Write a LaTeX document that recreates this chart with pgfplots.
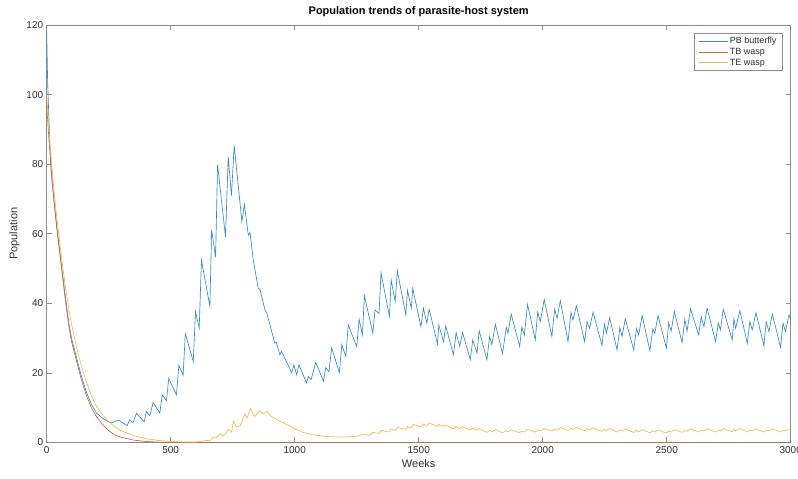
\documentclass[border=0pt]{standalone}
\usepackage{fontspec}
\setmainfont{Liberation Sans}
\usepackage{pgfplots}
\pgfplotsset{compat=1.18}
\definecolor{mblue}{RGB}{55,138,192}
\definecolor{morange}{RGB}{185,110,80}
\definecolor{myellow}{RGB}{236,188,75}
\definecolor{axgray}{RGB}{140,140,140}
\definecolor{labgray}{RGB}{50,50,50}
\begin{document}
\begin{tikzpicture}
\begin{axis}[
  width=744pt, height=417.5pt, scale only axis,
  xmin=0, xmax=3000, ymin=0, ymax=120,
  xtick={0,500,1000,1500,2000,2500,3000},
  ytick={0,20,40,60,80,100,120},
  tick align=inside, major tick length=5pt,
  axis line style={axgray, line width=0.6pt},
  tick style={axgray, line width=0.6pt},
  every tick label/.append style={font=\fontsize{10}{12}\selectfont, text=labgray},
  /pgf/number format/assume math mode=true,
  /pgf/number format/1000 sep={},
  title={\textbf{Population trends of parasite-host system}},
  title style={font=\fontsize{11}{13}\selectfont, inner sep=2pt},
  xlabel={Weeks}, ylabel={Population},
  label style={font=\fontsize{11}{13}\selectfont, text=labgray},
  legend style={at={(1,1)}, anchor=north east, xshift=-8pt, yshift=-8pt,
    draw=axgray, font=\fontsize{9}{10}\selectfont, text=labgray,
    inner xsep=4pt, inner ysep=2pt, row sep=-1pt},
  legend cell align=left,
  legend image code/.code={\draw[#1] (0pt,0pt) -- (29pt,0pt);},
  every axis plot/.append style={line width=0.65pt},
]
\addplot[mblue] coordinates {
(0,118) (4,103) (10,91) (15,82) (20,76) (30,69) (40,62.5) (50,56.5) (60,50.5) (75,42) (90,34) (100,30) (120,24.5) (140,19) (160,14.5) (180,11) (200,8.5) (225,7) (245,6.1) (262,5.6) (275,6.1) (291,6.4) (324,4.8) (335,6.5) (348,5.7) (362,8.4) (393,5.9) (402,8.9) (416,7.7) (429,11.5) (456,8.5) (466,13.7) (483,12.0) (492,18.4) (523,13.7) (533,22.2) (550,19.3) (559,31.3) (591,23.3) (600,37.6) (615,32.9) (624,52.4) (658,39.1) (665,61.2) (681,53.3) (689,79.8) (721,59.1) (732,82.1) (745,71) (756,85.4) (787,63.5) (797,68.4) (813,59.6) (820,60.3) (833,52.4) (853,44.3) (860,44.0) (880,38.1) (887,37.3) (920,28.5) (926,28.8) (940,25.2) (947,26.2) (988,20) (997,22.3) (1008,19.5) (1017,22.3) (1048,17.1) (1055,19) (1066,18.1) (1085,23) (1116,17.6) (1125,21.5) (1138,20.4) (1149,27.2) (1180,20.1) (1190,28.1) (1206,24.7) (1216,33.8) (1250,27.6) (1260,35.4) (1273,30.9) (1281,42.2) (1315,31.4) (1324,38.1) (1340,37.1) (1348,48.8) (1382,36.2) (1389,46.7) (1405,40.5) (1414,49.3) (1448,36.7) (1455,43.8) (1470,38.6) (1476,44.3) (1509,33.3) (1519,38.6) (1533,34.3) (1542,38.3) (1576,28.3) (1581,33.8) (1600,29) (1609,33.5) (1640,25.2) (1651,31.6) (1665,27.6) (1677,31.6) (1708,23.8) (1718,29.5) (1735,25.7) (1744,32.1) (1775,23.8) (1786,30.5) (1795,28.1) (1809,34) (1838,25.5) (1853,33.1) (1860,31.4) (1873,36.9) (1907,27.6) (1916,33.2) (1926,30.9) (1939,39.7) (1970,29.5) (1980,37.6) (1990,34.7) (2006,41.1) (2037,30.5) (2048,38.3) (2058,35.7) (2071,40.8) (2102,29) (2114,37.4) (2122,35.2) (2136,39.3) (2169,29) (2179,34.7) (2189,32.8) (2203,37.4) (2239,27.9) (2249,34) (2257,31.4) (2270,35.9) (2300,26.6) (2311,33) (2320,30.5) (2333,35.5) (2367,26.6) (2378,32.8) (2387,30.9) (2401,36.5) (2432,26.4) (2444,32.6) (2452,31.4) (2465,36.5) (2499,27.1) (2508,34.5) (2518,32) (2531,37.6) (2562,28.7) (2573,35.4) (2582,32) (2596,38.4) (2629,30.9) (2639,36.2) (2650,33.3) (2663,38.6) (2697,29) (2708,34.3) (2717,32.4) (2728,38.3) (2764,29.5) (2771,35.5) (2778,32.8) (2795,37.9) (2825,28.5) (2835,34.7) (2845,32.4) (2860,37.3) (2892,27.8) (2901,34.7) (2912,31.9) (2926,36.9) (2959,27.4) (2969,34.3) (2979,31.9) (2993,36.7) (3000,35.2)
};
\addlegendentry{PB butterfly}
\addplot[morange] coordinates {
(0,97) (10,86) (20,77) (30,69) (40,62) (50,56) (60,50) (75,41) (90,33) (100,29) (120,23.5) (140,18) (160,13.5) (180,10) (200,7.5) (225,5.2) (250,3.4) (275,2.2) (300,1.5) (350,0.7) (400,0.3) (450,0.12) (500,0.05) (600,0) (3000,0)
};
\addlegendentry{TB wasp}
\addplot[myellow] coordinates {
(0,100) (10,89) (20,80) (30,72) (40,65) (50,59) (60,53) (75,45) (90,38) (100,34) (120,27.5) (140,22) (160,17.5) (180,13.5) (200,10.5) (225,8) (250,6) (275,4.5) (300,3.4) (350,2) (400,1.1) (450,0.6) (500,0.3) (550,0.15) (600,0.15) (620,0.3) (645,0.6) (658,0.5) (672,1.6) (685,1.4) (700,2.6) (710,1.8) (720,2.4) (732,3.8) (745,3.0) (753,6.1) (765,4.5) (779,4.8) (790,6.5) (799,8.2) (808,7.0) (822,9.8) (835,7.8) (840,7.5) (850,8.5) (860,9.2) (870,8.3) (880,8.6) (888,9.0) (900,7.8) (913,7.2) (925,6.8) (940,6.1) (955,5.7) (967,5.1) (985,4.6) (1001,3.9) (1015,3.5) (1034,2.9) (1055,2.5) (1075,2.2) (1095,2.0) (1115,1.8) (1140,1.7) (1169,1.6) (1190,1.6) (1210,1.6) (1230,1.7) (1250,1.8) (1280,2.4) (1300,2.0) (1315,2.9) (1340,2.6) (1350,3.5) (1380,3.0) (1390,3.9) (1405,3.4) (1415,4.3) (1448,3.8) (1455,4.6) (1470,4.2) (1478,5.2) (1508,4.5) (1519,5.3) (1533,4.8) (1542,5.6) (1576,4.6) (1581,5.2) (1600,4.6) (1609,5.0) (1640,3.9) (1651,4.6) (1665,4.0) (1677,4.5) (1708,3.6) (1718,4.1) (1735,3.5) (1744,4.0) (1775,2.9) (1786,3.5) (1795,3.1) (1809,3.7) (1838,2.8) (1853,3.4) (1860,3.1) (1873,3.6) (1907,2.8) (1916,3.3) (1926,3.0) (1939,3.8) (1970,3.0) (1980,3.6) (1990,3.3) (2006,4.0) (2037,3.3) (2048,3.9) (2058,3.5) (2071,4.3) (2102,3.5) (2114,4.1) (2122,3.7) (2136,4.4) (2169,3.4) (2179,3.9) (2189,3.6) (2203,4.2) (2239,3.2) (2249,3.8) (2257,3.4) (2270,4.0) (2300,3.0) (2311,3.6) (2320,3.3) (2333,3.9) (2367,2.9) (2378,3.5) (2387,3.1) (2401,3.7) (2432,2.8) (2444,3.3) (2452,3.0) (2465,3.6) (2499,2.7) (2508,3.3) (2518,3.0) (2531,3.7) (2562,2.9) (2573,3.5) (2582,3.2) (2596,3.9) (2629,3.0) (2639,3.6) (2650,3.3) (2663,4.0) (2697,3.0) (2708,3.6) (2717,3.3) (2728,4.0) (2764,3.1) (2771,3.7) (2778,3.4) (2795,4.0) (2825,3.0) (2835,3.6) (2845,3.3) (2860,3.9) (2892,3.0) (2901,3.6) (2912,3.3) (2926,3.9) (2959,3.0) (2969,3.6) (2979,3.3) (2993,3.9) (3000,3.7)
};
\addlegendentry{TE wasp}
\end{axis}
\pgfresetboundingbox
\path[use as bounding box] ([xshift=-46.7pt,yshift=-36.5pt]current axis.south west) rectangle ([xshift=7.3pt,yshift=25pt]current axis.north east);
\end{tikzpicture}
\end{document}
